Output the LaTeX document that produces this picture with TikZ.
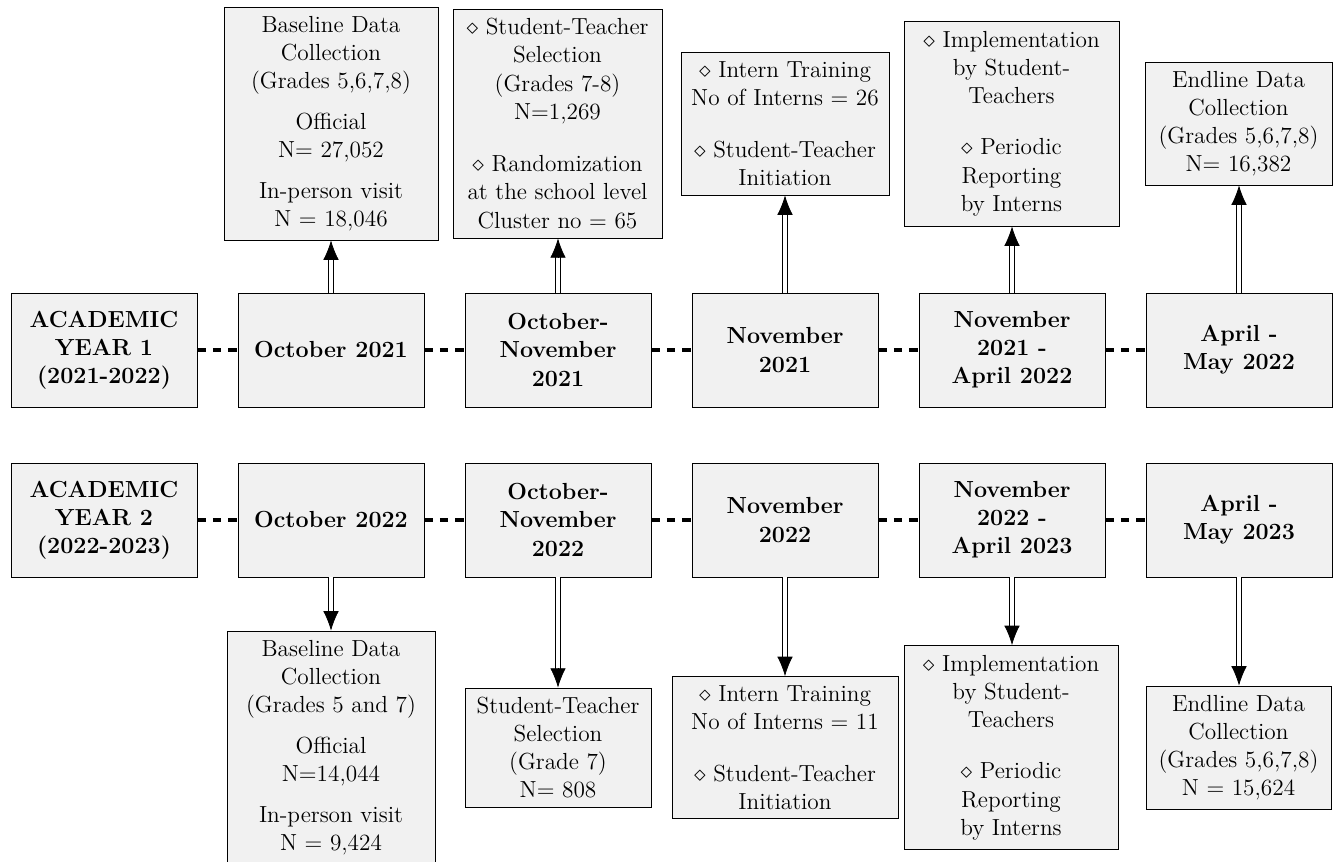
\documentclass[tikz,border=0pt,12pt]{standalone}
\usetikzlibrary{arrows.meta}
\definecolor{boxfill}{RGB}{241,241,241}
\tikzset{
 box/.style={draw=black, line width=0.4pt, fill=boxfill, align=center, inner sep=0pt},
 rowbox/.style={box, minimum width=95.9pt, minimum height=58.8pt, font=\bfseries},
 dashline/.style={line width=1.6pt, dash pattern=on 4.4pt off 3.6pt},
 dbl/.style={draw=black, line width=0.4pt, double=white, double distance=2.4pt},
 tiphead/.style={-{Latex[length=10pt,width=8pt]}, line width=0.4pt},
}
\begin{document}
\begin{tikzpicture}[x=0.5155pt, y=-0.5155pt]
\useasboundingbox (0,0) rectangle (1337,862);
% ---- row 1
\node[rowbox] (a0) at (104,350) {ACADEMIC\\YEAR 1\\(2021-2022)};
\node[rowbox] (a1) at (331,350) {October 2021};
\node[rowbox] (a2) at (558,350) {October-\\November\\2021};
\node[rowbox] (a3) at (785,350) {November\\2021};
\node[rowbox] (a4) at (1012,350) {November\\2021 -\\April 2022};
\node[rowbox] (a5) at (1239,350) {April -\\May 2022};
% ---- row 2
\node[rowbox] (b0) at (104,520) {ACADEMIC\\YEAR 2\\(2022-2023)};
\node[rowbox] (b1) at (331,520) {October 2022};
\node[rowbox] (b2) at (558,520) {October-\\November\\2022};
\node[rowbox] (b3) at (785,520) {November\\2022};
\node[rowbox] (b4) at (1012,520) {November\\2022 -\\April 2023};
\node[rowbox] (b5) at (1239,520) {April -\\May 2023};
% ---- dashed connectors
\foreach \i/\j in {0/1,1/2,2/3,3/4,4/5}{
  \draw[dashline] (a\i.east) -- (a\j.west);
  \draw[dashline] (b\i.east) -- (b\j.west);
}
% ---- top boxes
\node[box, minimum width=110.3pt, minimum height=120.1pt] (t1) at (331,123.5)
 {Baseline Data\\Collection\\(Grades 5,6,7,8)\\[6.4pt]Official\\N= 27,052\\[6.4pt]In-person visit\\N = 18,046};
\node[box, minimum width=107.7pt, minimum height=118pt] (t2) at (557.5,123.5)
 {$\diamond$ Student-Teacher\\Selection\\(Grades 7-8)\\N=1,269\\[12.6pt]$\diamond$ Randomization\\at the school level\\Cluster no = 65};
\node[box, minimum width=107.2pt, minimum height=73.7pt] (t3) at (785,123.5)
 {$\diamond$ Intern Training\\No of Interns = 26\\[12pt]$\diamond$ Student-Teacher\\Initiation};
\node[box, minimum width=110.8pt, minimum height=105.7pt] (t4) at (1011.5,123.5)
 {$\diamond$ Implementation\\by Student-\\Teachers\\[12pt]$\diamond$ Periodic\\Reporting\\by Interns};
\node[box, minimum width=96.4pt, minimum height=63.4pt] (t5) at (1238.5,123.5)
 {Endline Data\\Collection\\(Grades 5,6,7,8)\\N= 16,382};
% ---- bottom boxes
\node[box, minimum width=107.2pt, minimum height=120.1pt] (u1) at (331,747.5)
 {Baseline Data\\Collection\\(Grades 5 and 7)\\[6.4pt]Official\\N=14,044\\[6.4pt]In-person visit\\N = 9,424};
\node[box, minimum width=95.9pt, minimum height=61.3pt] (u2) at (558,747.5)
 {Student-Teacher\\Selection\\(Grade 7)\\N= 808};
\node[box, minimum width=116.5pt, minimum height=73.2pt] (u3) at (785,747.5)
 {$\diamond$ Intern Training\\No of Interns = 11\\[12pt]$\diamond$ Student-Teacher\\Initiation};
\node[box, minimum width=110.3pt, minimum height=105.2pt] (u4) at (1011,747.5)
 {$\diamond$ Implementation\\by Student-\\Teachers\\[12pt]$\diamond$ Periodic\\Reporting\\by Interns};
\node[box, minimum width=95.4pt, minimum height=63.4pt] (u5) at (1238.5,747.5)
 {Endline Data\\Collection\\(Grades 5,6,7,8)\\N = 15,624};
% ---- double arrows
\foreach \i in {1,...,5}{
  \coordinate (te\i) at (a\i.north |- t\i.south);
  \coordinate (ue\i) at (b\i.south |- u\i.north);
  \draw[dbl, shorten >=9.5pt] (a\i.north) -- (te\i);
  \draw[tiphead] ([yshift=-10pt]te\i) -- (te\i);
  \draw[dbl, shorten >=9.5pt] (b\i.south) -- (ue\i);
  \draw[tiphead] ([yshift=10pt]ue\i) -- (ue\i);
}
\end{tikzpicture}
\end{document}
